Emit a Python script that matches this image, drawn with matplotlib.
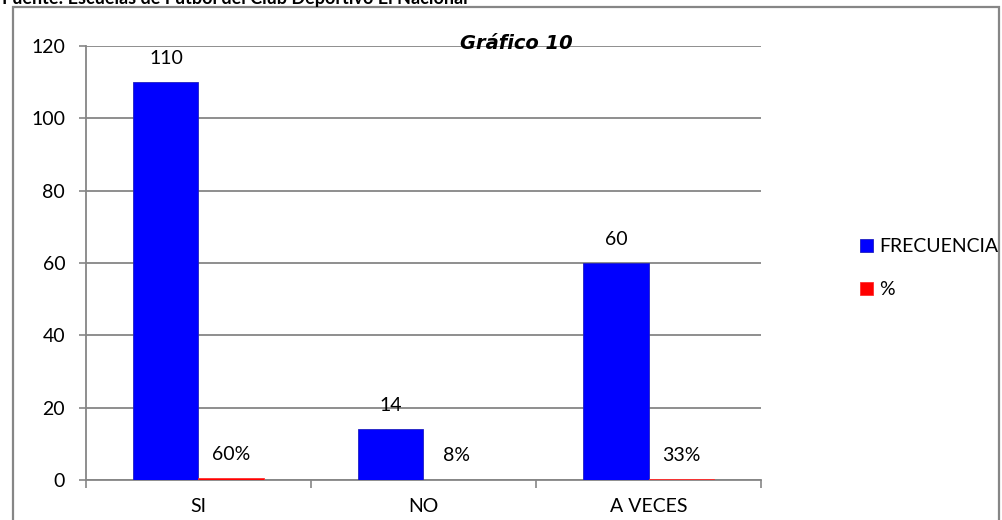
import matplotlib
matplotlib.use("Agg")
import matplotlib.pyplot as plt
from matplotlib.patches import Rectangle
import numpy as np

plt.rcParams['font.family'] = ['Lato', 'DejaVu Sans']

categorias = ["SI", "NO", "A VECES"]
frecuencia = [110, 14, 60]
porcentaje = [0.60, 0.08, 0.33]
etiquetas_pct = ["60%", "8%", "33%"]
y_ticks = [0, 20, 40, 60, 80, 100, 120]

gris = "#868686"

fig = plt.figure(figsize=(10.02, 5.2), dpi=100)
ax = fig.add_axes([0.0858, 0.0769, 0.6737, 0.8346])

x = np.arange(len(categorias))
w = 0.289
b1 = ax.bar(x - w / 2, frecuencia, w, color="#0000FF", edgecolor="#2020c0", linewidth=0.6,
            label="FRECUENCIA", zorder=3)
b2 = ax.bar(x + w / 2, porcentaje, w, color="#FF0000", edgecolor="#FF3030", linewidth=0.6,
            label="%", zorder=3)

for xi, v in zip(x, frecuencia):
    ax.annotate(str(v), (xi - w / 2, v), xytext=(0, 11), textcoords="offset points",
                ha="center", va="bottom", fontsize=14)
for xi, v, t in zip(x, porcentaje, etiquetas_pct):
    ax.annotate(t, (xi + w / 2, v), xytext=(0, 11), textcoords="offset points",
                ha="center", va="bottom", fontsize=14)

ax.set_xlim(-0.5, len(categorias) - 0.5)
ax.set_ylim(0, 120)
ax.set_yticks(y_ticks)
ax.set_xticks(x)
ax.set_xticklabels(categorias)
ax.set_xticks(np.arange(-0.5, len(categorias)), minor=True)
ax.tick_params(axis="x", which="major", length=0, pad=13, labelsize=14)
ax.tick_params(axis="x", which="minor", length=6, width=1.2, color=gris, direction="out")
ax.tick_params(axis="y", length=5, width=1.2, color=gris, pad=10, labelsize=14)

ax.yaxis.grid(True, color=gris, linewidth=1.3, zorder=0)
ax.set_axisbelow(True)
for s in ["top", "right"]:
    ax.spines[s].set_visible(False)
for s in ["left", "bottom"]:
    ax.spines[s].set_color(gris)
    ax.spines[s].set_linewidth(1.3)

ax.text(0.637, 1.005, "Gráfico 10", transform=ax.transAxes, ha="center", va="center",
        fontsize=14, fontweight="bold", fontstyle="italic", family=["DejaVu Sans"])

fig.legend(handles=[b1, b2], loc="center left", bbox_to_anchor=(0.858, 0.484),
           frameon=False, fontsize=14, handlelength=0.7, handleheight=0.7,
           handletextpad=0.3, labelspacing=1.35, borderpad=0, borderaxespad=0)

fig.patches.append(Rectangle((13 / 1002, -0.05), 986 / 1002, 1 - 7 / 520 + 0.05,
                             transform=fig.transFigure, fill=False, edgecolor=gris,
                             linewidth=1.6))

fig.text(0.002, 1.0 - 4 / 520, "Fuente: Escuelas de Futbol del Club Deportivo El Nacional",
         ha="left", va="baseline", fontsize=13, fontweight="bold")

fig.savefig("out.png", dpi=100)
